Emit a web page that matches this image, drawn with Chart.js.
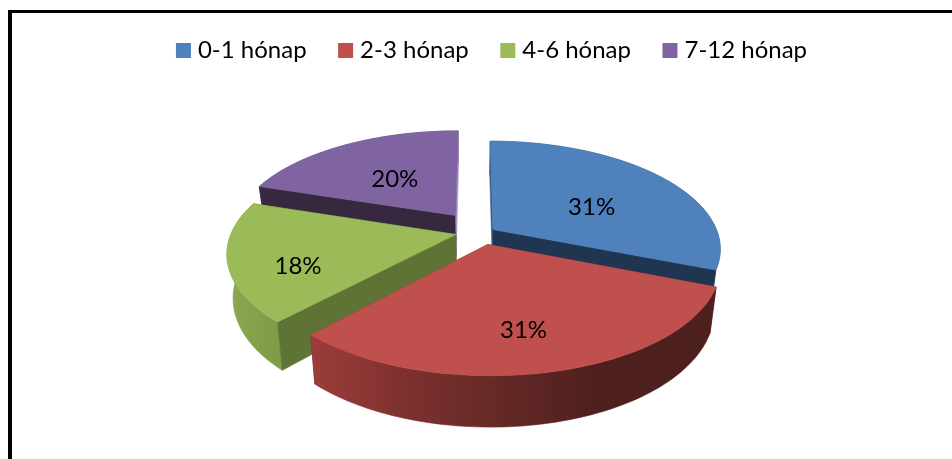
<!DOCTYPE html>
<html>
<head>
<meta charset="utf-8">
<style>
html,body{margin:0;padding:0;background:#fff;overflow:hidden}
#wrap{position:absolute;left:0;top:0;width:952px;height:459px}
#frame{position:absolute;left:8px;top:10px;width:944px;height:449px;box-sizing:border-box;border-left:4px solid #000;border-top:3px solid #000}
canvas{position:absolute;left:0;top:0}
</style>
<script src="https://cdn.jsdelivr.net/npm/chart.js@4"></script>
</head>
<body>
<div id="wrap"><div id="frame"></div><canvas id="c" width="952" height="459"></canvas></div>
<script>
const categories = ['0-1 hónap', '2-3 hónap', '4-6 hónap', '7-12 hónap'];
const values = [31, 31, 18, 20];
const faceColors = ['#4f81bd', '#c0504d', '#9bbb59', '#8064a2'];

// Style: projection of the tilted, exploded pie
const view = {cx: 473, cy: 231.5, rx: 224, ry: 104, k: 0.17, depth: 42, depthGrow: 0.2, shrink: 0.975};
const explode = [[0.09, -0.019], [0.065, 0.122], [-0.076, 0.029], [-0.079, -0.158]];
const labelR = [0.55, 0.70, 0.70, 0.50];
const labelNudge = [[3, 8], [-6, 2], [0, 13], [-2, 1]];
const drawOrder = [3, 0, 2, 1];
const cutStart = ['#3a5a80', '#7a3230', '#5f7335', '#35283f'];
const cutEnd = ['#1f3550', '#7a3230', '#5f7335', '#a897c0'];
const wallStops = [
  [[490, '#2f5078'], [720, '#3a6088']],
  [[315, '#9a3c3a'], [400, '#7f312f'], [490, '#672a27'], [600, '#4d1f1d'], [712, '#4d1f1d']],
  [[228, '#8aa94f'], [285, '#7d9948']],
  [[257, '#6f7080'], [460, '#5a4672']]
];
const FONT = 'Lato, Carlito, sans-serif';

function project(U, V, low) {
  const w = 1 / (1 - view.k * V);
  let x = view.cx + view.rx * U * w;
  let y = view.cy + view.ry * V * w;
  if (low) {
    x = view.cx + (x - view.cx) * view.shrink;
    y += view.depth * (1 + view.depthGrow * V);
  }
  return [x, y];
}
function rimPoint(i, theta, r, low) {
  return project(explode[i][0] + r * Math.sin(theta), explode[i][1] - r * Math.cos(theta), low);
}
function rim(i, a0, a1, low) {
  const pts = [];
  const n = Math.max(8, Math.ceil((a1 - a0) * 40));
  for (let s = 0; s <= n; s++) pts.push(rimPoint(i, a0 + (a1 - a0) * s / n, 1, low));
  return pts;
}
function fillPoly(ctx, pts, fill) {
  ctx.beginPath();
  pts.forEach((p, j) => j ? ctx.lineTo(p[0], p[1]) : ctx.moveTo(p[0], p[1]));
  ctx.closePath();
  ctx.fillStyle = fill;
  ctx.fill();
  ctx.strokeStyle = fill;
  ctx.lineWidth = 0.6;
  ctx.stroke();
}

const pie3d = {
  id: 'pie3d',
  beforeDatasetsDraw(chart) {
    const ctx = chart.ctx;
    const arcs = chart.getDatasetMeta(0).data;
    ctx.save();
    drawOrder.forEach(i => {
      const a0 = arcs[i].startAngle + Math.PI / 2;
      const a1 = arcs[i].endAngle + Math.PI / 2;
      const apexT = rimPoint(i, 0, 0, false);
      const apexB = rimPoint(i, 0, 0, true);
      const drawCuts = () => {
        fillPoly(ctx, [apexT, rimPoint(i, a0, 1, false), rimPoint(i, a0, 1, true), apexB], cutStart[i]);
        fillPoly(ctx, [apexT, rimPoint(i, a1, 1, false), rimPoint(i, a1, 1, true), apexB], cutEnd[i]);
      };
      const drawWall = () => {
        const stops = wallStops[i];
        const x0 = stops[0][0], x1 = stops[stops.length - 1][0];
        const g = ctx.createLinearGradient(x0, 0, x1, 0);
        stops.forEach(s => g.addColorStop((s[0] - x0) / (x1 - x0), s[1]));
        fillPoly(ctx, rim(i, a0, a1, false).concat(rim(i, a0, a1, true).reverse()), g);
      };
      // A slice that faces away shows its cut faces in front of its rim
      if (Math.cos((a0 + a1) / 2) > -0.5) { drawWall(); drawCuts(); }
      else { drawCuts(); drawWall(); }
      fillPoly(ctx, [apexT].concat(rim(i, a0, a1, false)), faceColors[i]);
    });
    ctx.fillStyle = '#000';
    ctx.font = '24px ' + FONT;
    ctx.textAlign = 'center';
    ctx.textBaseline = 'middle';
    arcs.forEach((arc, i) => {
      const mid = (arc.startAngle + arc.endAngle) / 2 + Math.PI / 2;
      const p = rimPoint(i, mid, labelR[i], false);
      ctx.fillText(values[i] + '%', p[0] + labelNudge[i][0], p[1] + labelNudge[i][1]);
    });
    ctx.restore();
    return false;
  }
};

new Chart(document.getElementById('c'), {
  type: 'pie',
  data: {
    labels: categories,
    datasets: [{data: values, backgroundColor: faceColors, borderWidth: 0}]
  },
  options: {
    responsive: false,
    animation: false,
    layout: {padding: {left: 36, top: 2}},
    plugins: {
      tooltip: {enabled: false},
      legend: {
        position: 'top',
        align: 'center',
        labels: {
          usePointStyle: true,
          pointStyle: 'rect',
          boxWidth: 5,
          boxHeight: 15,
          padding: 36.5,
          color: '#000',
          font: {family: FONT, size: 24}
        }
      }
    }
  },
  plugins: [pie3d]
});
</script>
</body>
</html>
